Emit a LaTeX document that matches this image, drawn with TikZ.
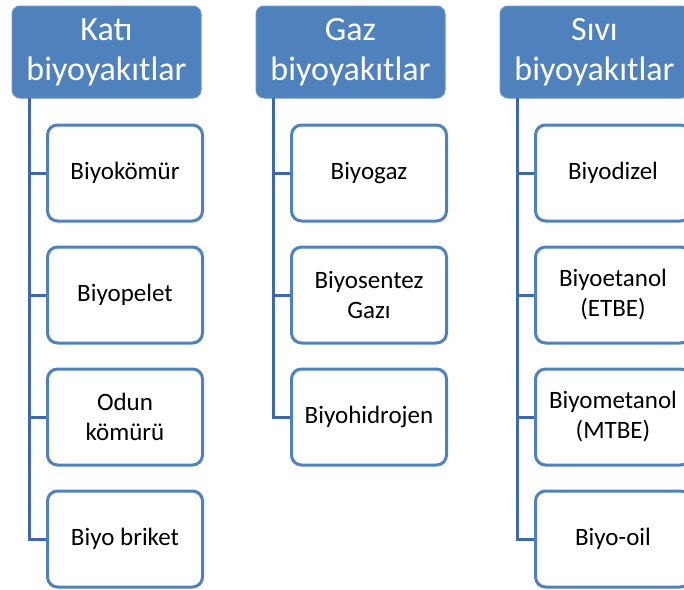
\documentclass[tikz,border=0pt]{standalone}
\usepackage{fontspec}
\setmainfont{Carlito}
\usetikzlibrary{positioning}

\definecolor{ofblue}{HTML}{4F81BD}
\definecolor{lnblue}{HTML}{3F68A8}

\tikzset{
  head/.style={rectangle, rounded corners=8pt, fill=ofblue, draw=ofblue!85!white, line width=1pt,
    minimum width=189pt, minimum height=92pt, inner sep=0pt, align=center, text=white,
    font=\fontsize{34}{40}\selectfont},
  leaf/.style={rectangle, rounded corners=10pt, fill=white, draw=ofblue, line width=3pt,
    minimum width=155pt, minimum height=96pt, inner sep=0pt, align=center,
    font=\fontsize{25}{30}\selectfont},
  link/.style={draw=lnblue, line width=3pt}
}

\begin{document}
\begin{tikzpicture}[x=1pt,y=-1pt]
  \useasboundingbox (0,0) rectangle (684,589);
  \clip (0,0) rectangle (684,589);

  % column headers
  \node[head] (kati) at (106.5,52) {Katı\\biyoyakıtlar};
  \node[head] (gaz)  at (350.5,52) {Gaz\\biyoyakıtlar};
  \node[head] (sivi) at (594.5,52) {Sıvı\\biyoyakıtlar};

  \coordinate (kt) at (29,98);
  \coordinate (gt) at (273,98);
  \coordinate (st) at (517,98);

  % solid
  \node[leaf] (k1) at (125,173) {Biyokömür};
  \node[leaf] (k2) [below=23pt of k1] {Biyopelet};
  \node[leaf] (k3) [below=23pt of k2] {Odun\\kömürü};
  \node[leaf] (k4) [below=23pt of k3] {Biyo briket};

  % gas
  \node[leaf] (g1) at (369,173) {Biyogaz};
  \node[leaf] (g2) [below=23pt of g1] {Biyosentez\\Gazı};
  \node[leaf] (g3) [below=23pt of g2] {Biyohidrojen};

  % liquid
  \node[leaf] (s1) at (613,173) {Biyodizel};
  \node[leaf] (s2) [below=23pt of s1] {Biyoetanol\\(ETBE)};
  \node[leaf] (s3) [below=23pt of s2] {Biyometanol\\(MTBE)};
  \node[leaf] (s4) [below=23pt of s3] {Biyo-oil};

  \foreach \c/\n in {kt/k1,kt/k2,kt/k3,kt/k4,gt/g1,gt/g2,gt/g3,st/s1,st/s2,st/s3,st/s4}
    \draw[link] (\c) |- (\n.west);

\end{tikzpicture}
\end{document}
